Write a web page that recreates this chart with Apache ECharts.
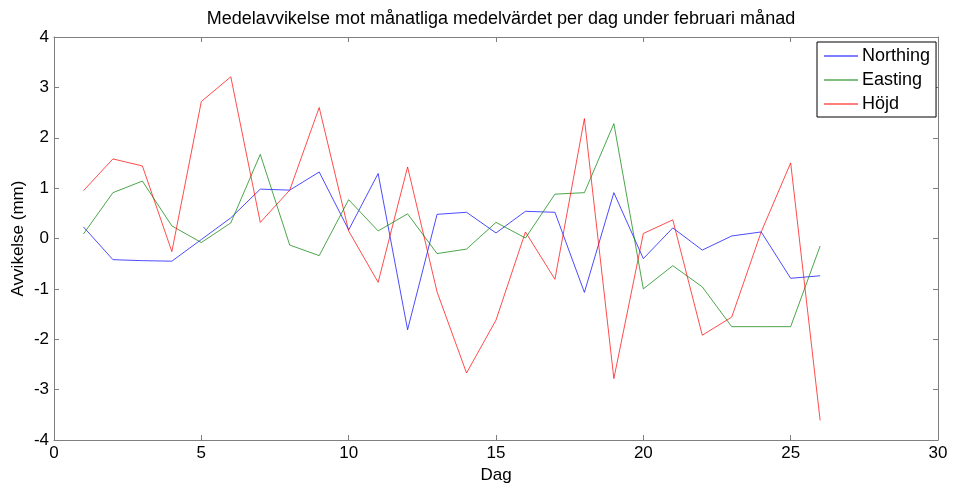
<!DOCTYPE html>
<html>
<head>
<meta charset="utf-8">
<script src="https://cdn.jsdelivr.net/npm/echarts@6/dist/echarts.min.js"></script>
<style>
  html, body { margin: 0; padding: 0; background: #fff; }
  #chart { width: 955px; height: 490px; }
</style>
</head>
<body>
<div id="chart"></div>
<script>
const days = [1, 2, 3, 4, 5, 6, 7, 8, 9, 10, 11, 12, 13, 14, 15, 16, 17, 18, 19, 20, 21, 22, 23, 24, 25, 26]

const northing = [0.23, -0.42, -0.44, -0.45, -0.02, 0.41, 0.98, 0.96, 1.32, 0.17,
  1.29, -1.81, 0.48, 0.52, 0.11, 0.54, 0.52, -1.07, 0.91, -0.40,
  0.21, -0.23, 0.05, 0.13, -0.79, -0.74]

const easting = [0.09, 0.91, 1.14, 0.25, -0.08, 0.31, 1.67, -0.13, -0.34, 0.77,
  0.15, 0.49, -0.30, -0.21, 0.32, 0.01, 0.88, 0.91, 2.28, -1.00,
  -0.54, -0.96, -1.75, -1.75, -1.75, -0.15]

const hojd = [0.95, 1.58, 1.44, -0.26, 2.72, 3.21, 0.32, 0.96, 2.60, 0.15,
  -0.87, 1.42, -1.06, -2.67, -1.62, 0.13, -0.81, 2.38, -2.78, 0.10,
  0.37, -1.92, -1.56, 0.13, 1.50, -3.61]

const seriesNames = ['Northing', 'Easting', 'Höjd']
const seriesColors = ['#0000ff', '#008000', '#ff0000']

const FONT = 'Liberation Sans, Arial, sans-serif'
const AXIS_GRAY = '#7f7f7f'

const chart = echarts.init(document.getElementById('chart'), null, { renderer: 'canvas' })

function pairs(values) {
  return days.map((d, i) => [d, values[i]])
}

function frameAxis(base) {
  return Object.assign({
    axisLine: { show: true, onZero: false, lineStyle: { color: AXIS_GRAY, width: 1 } },
    axisTick: { show: true, inside: true, length: 5, lineStyle: { color: AXIS_GRAY } },
    splitLine: { show: false },
  }, base)
}

const option = {
  animation: false,
  backgroundColor: '#fff',
  title: {
    text: 'Medelavvikelse mot månatliga medelvärdet per dag under februari månad',
    left: 496,
    textAlign: 'center',
    top: 5,
    textStyle: { fontFamily: FONT, fontSize: 18, fontWeight: 'normal', color: '#000' },
  },
  grid: { left: 54, right: 17, top: 37, bottom: 50, containLabel: false, outerBoundsMode: 'none' },
  legend: {
    orient: 'vertical',
    left: 817,
    top: 42,
    data: seriesNames,
    icon: 'rect',
    itemWidth: 34,
    itemHeight: 1,
    itemGap: 6,
    padding: [5, 6, 4, 7],
    borderColor: '#000',
    borderWidth: 1,
    backgroundColor: '#fff',
    textStyle: { fontFamily: FONT, fontSize: 18, color: '#000', lineHeight: 18, padding: [0, 0, 0, -1] },
  },
  xAxis: [
    frameAxis({
      type: 'value',
      min: 0,
      max: 30,
      interval: 5,
      position: 'bottom',
      name: 'Dag',
      nameLocation: 'middle',
      nameGap: 27,
      nameTextStyle: { fontFamily: FONT, fontSize: 17, color: '#000' },
      axisLabel: { fontFamily: FONT, fontSize: 17, color: '#000', margin: 5 },
    }),
    frameAxis({
      type: 'value',
      min: 0,
      max: 30,
      interval: 5,
      position: 'top',
      axisLabel: { show: false },
    }),
  ],
  yAxis: [
    frameAxis({
      type: 'value',
      min: -4,
      max: 4,
      interval: 1,
      position: 'left',
      name: 'Avvikelse (mm)',
      nameLocation: 'middle',
      nameGap: 27,
      nameMoveOverlap: false,
      nameTextStyle: { fontFamily: FONT, fontSize: 17, color: '#000' },
      axisLabel: { fontFamily: FONT, fontSize: 17, color: '#000', margin: 5 },
    }),
    frameAxis({
      type: 'value',
      min: -4,
      max: 4,
      interval: 1,
      position: 'right',
      axisLabel: { show: false },
    }),
  ],
  series: [northing, easting, hojd].map((vals, i) => ({
    name: seriesNames[i],
    type: 'line',
    xAxisIndex: 0,
    yAxisIndex: 0,
    data: pairs(vals),
    showSymbol: false,
    symbol: 'none',
    lineStyle: { color: seriesColors[i], width: 1, opacity: 0.7 },
    itemStyle: { color: seriesColors[i] },
  })),
}

chart.setOption(option)
</script>
</body>
</html>
